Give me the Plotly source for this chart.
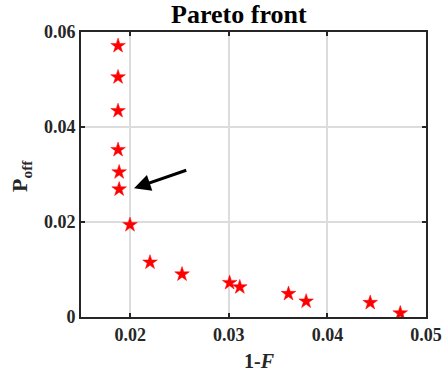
import plotly.graph_objects as go

one_minus_F = [0.01876, 0.01876, 0.01876, 0.01876, 0.01887, 0.01887, 0.01997,
               0.0220, 0.02525, 0.03008, 0.03111, 0.03605, 0.03784, 0.04434, 0.04739]
P_off = [0.0571, 0.0505, 0.0434, 0.0352, 0.0305, 0.0269, 0.0194,
         0.0115, 0.0090, 0.0072, 0.0063, 0.0049, 0.0033, 0.0030, 0.0008]
x_ticks = [0.02, 0.03, 0.04, 0.05]
y_ticks = [0, 0.02, 0.04, 0.06]
arrow_head = (0.02038, 0.0271)
arrow_tail = (0.02583, 0.0310)

font_family = "Liberation Serif"
W, H = 444, 372
ML, MR, MT, MB = 81, 18, 32, 55

fig = go.Figure()
fig.add_trace(go.Scatter(
    x=one_minus_F, y=P_off, mode="markers",
    marker=dict(symbol="star", size=11, color="#ff0000",
                line=dict(width=0.5, color="#ff0000")),
    showlegend=False,
))

fig.add_annotation(
    x=arrow_head[0], y=arrow_head[1], ax=arrow_tail[0], ay=arrow_tail[1],
    xref="x", yref="y", axref="x", ayref="y",
    showarrow=True, arrowhead=2, arrowsize=1.1, arrowwidth=3, arrowcolor="#000000",
    text="",
)

# axis titles as paper-positioned annotations
pw, ph = W - ML - MR, H - MT - MB
fig.add_annotation(
    text="<b>1-<i>F</i></b>", xref="paper", yref="paper",
    x=(259 - ML) / pw, y=-(361 - (H - MB)) / ph, xanchor="center", yanchor="middle",
    showarrow=False, font=dict(family=font_family, size=20, color="#262626"),
)
fig.add_annotation(
    text="<b>P<sub>off</sub></b>", xref="paper", yref="paper",
    x=-(ML - 21) / pw, y=((H - MB) - 176) / ph, xanchor="center", yanchor="middle",
    textangle=-90, showarrow=False, font=dict(family=font_family, size=22, color="#262626"),
)

axis_common = dict(
    showline=True, linecolor="#262626", linewidth=2, mirror="allticks",
    ticks="inside", ticklen=4, tickwidth=2, tickcolor="#262626",
    showgrid=True, gridcolor="#dcdcdc", gridwidth=2, zeroline=False,
    automargin=False,
    tickfont=dict(family=font_family, size=18, color="#262626"),
)

fig.update_layout(
    width=W, height=H,
    margin=dict(l=ML, r=MR, t=MT, b=MB),
    plot_bgcolor="white", paper_bgcolor="white",
    font=dict(family=font_family),
    title=dict(text="<b>Pareto front</b>", x=0.538, xanchor="center", y=0.962, yanchor="middle",
               font=dict(family=font_family, size=26, color="#000000")),
    xaxis=dict(range=[0.015, 0.05], tickvals=x_ticks, ticktext=[f"<b>{v:g}</b>" for v in x_ticks],
               **axis_common),
    yaxis=dict(range=[0, 0.06], tickvals=y_ticks, ticktext=[f"<b>{v:g}</b>" for v in y_ticks],
               **axis_common),
)

fig.write_html("out.html")
